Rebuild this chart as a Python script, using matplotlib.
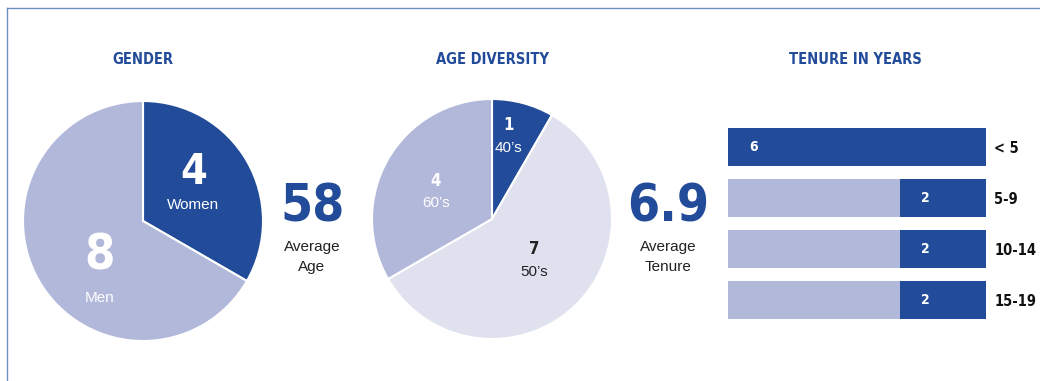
import matplotlib
matplotlib.use("Agg")
import matplotlib.pyplot as plt
from matplotlib.lines import Line2D
from matplotlib import font_manager as fm

# data
gender_labels = ["Women", "Men"]
gender_values = [4, 8]
age_labels = ["40\u2019s", "50\u2019s", "60\u2019s"]
age_values = [1, 7, 4]
tenure_labels = ["< 5", "5-9", "10-14", "15-19"]
tenure_values = [6, 2, 2, 2]
tenure_max = 6
avg_age = "58"
avg_tenure = "6.9"

DARK = "#224b99"
MID = "#b2b8da"
LIGHT = "#dfe1ef"
REG = ["Liberation Sans", "DejaVu Sans"]


def find_narrow_bold():
    # look for any condensed / narrow bold face on the system
    best = None
    for f in fm.fontManager.ttflist:
        name = f.name + " " + f.fname
        narrow = ("Narrow" in name or "Condensed" in name
                  or str(f.stretch) in ("condensed", "semi-condensed", "extra-condensed"))
        bold = f.weight in ("bold", 700, "heavy", 800) or "Bold" in f.fname
        if narrow and bold and "Italic" not in f.fname and "Oblique" not in f.fname:
            if best is None or "Liberation" in f.fname:
                best = f.fname
    return best


_nb = find_narrow_bold()


def nfont(size):
    if _nb:
        return fm.FontProperties(fname=_nb, size=size)
    return fm.FontProperties(family="Roboto", weight="bold", size=size)


W, H = 1040, 381
fig = plt.figure(figsize=(W / 100, H / 100), dpi=100)
fig.patch.set_facecolor("white")


def px(x, y):
    return x / W, 1 - y / H


def box(x0, y0, x1, y1):
    return [x0 / W, 1 - y1 / H, (x1 - x0) / W, (y1 - y0) / H]


# frame lines
fig.add_artist(Line2D([7 / W, 1], [1 - 8 / H, 1 - 8 / H], color="#6f8fbf", lw=1))
fig.add_artist(Line2D([7 / W, 7 / W], [1 - 8 / H, 0], color="#6f8fbf", lw=1))

# titles
for x, t in [(143, "GENDER"), (492, "AGE DIVERSITY"), (855, "TENURE IN YEARS")]:
    fig.text(*px(x, 60), t, ha="center", va="center", color=DARK,
             fontproperties=nfont(10.5))

# gender pie
ax1 = fig.add_axes(box(23, 101, 263, 341))
ax1.pie(gender_values, colors=[DARK, MID], startangle=90, counterclock=False,
        wedgeprops=dict(edgecolor="white", linewidth=1.5))
ax1.set_xlim(-1, 1)
ax1.set_ylim(-1, 1)
ax1.text(0.42, 0.41, str(gender_values[0]), ha="center", va="center", color="white",
         fontproperties=nfont(31))
ax1.text(0.42, 0.13, gender_labels[0], ha="center", va="center", color="white",
         fontsize=11, family=REG)
ax1.text(-0.36, -0.29, str(gender_values[1]), ha="center", va="center", color="white",
         fontproperties=nfont(35))
ax1.text(-0.36, -0.64, gender_labels[1], ha="center", va="center", color="white",
         fontsize=11, family=REG)

# average age
fig.text(*px(313, 208), avg_age, ha="center", va="center", color=DARK,
         fontproperties=nfont(37))
fig.text(*px(312, 257), "Average\nAge", ha="center", va="center", color="#222222",
         fontsize=11, family=REG, linespacing=1.6)

# age diversity pie
ax2 = fig.add_axes(box(372, 99, 612, 339))
ax2.pie(age_values, colors=[DARK, LIGHT, MID], startangle=90, counterclock=False,
        wedgeprops=dict(edgecolor="white", linewidth=1.5))
ax2.set_xlim(-1, 1)
ax2.set_ylim(-1, 1)
age_pos = [(0.14, 0.78), (0.35, -0.25), (-0.47, 0.32)]
age_col = ["white", "#222222", "white"]
for (x, y), v, lab, c in zip(age_pos, age_values, age_labels, age_col):
    ax2.text(x, y, str(v), ha="center", va="center", color=c,
             fontproperties=nfont(12))
    ax2.text(x, y - 0.19, lab, ha="center", va="center", color=c,
             fontsize=11, family=REG)

# average tenure
fig.text(*px(668, 208), avg_tenure, ha="center", va="center", color=DARK,
         fontproperties=nfont(37))
fig.text(*px(668, 257), "Average\nTenure", ha="center", va="center", color="#222222",
         fontsize=11, family=REG, linespacing=1.6)

# tenure bars
ax3 = fig.add_axes(box(728, 122, 986, 325))
ypos = list(range(len(tenure_labels)))
ax3.barh(ypos, [tenure_max] * len(ypos), height=0.75, color=MID)
starts = [tenure_max - v for v in tenure_values]
ax3.barh(ypos, tenure_values, left=starts, height=0.75, color=DARK)
for y, s, v in zip(ypos, starts, tenure_values):
    ax3.text(s + 0.6, y, str(v), ha="center", va="center", color="white",
             fontproperties=nfont(10))
ax3.set_xlim(0, tenure_max)
ax3.set_ylim(len(ypos) - 0.5, -0.5)
ax3.yaxis.tick_right()
ax3.set_yticks(ypos)
ax3.set_yticklabels(tenure_labels, color="#111111")
for lab in ax3.get_yticklabels():
    lab.set_fontproperties(nfont(10.5))
ax3.tick_params(axis="y", length=0, pad=6)
ax3.set_xticks([])
for s in ax3.spines.values():
    s.set_visible(False)

fig.savefig("out.png", dpi=100)
